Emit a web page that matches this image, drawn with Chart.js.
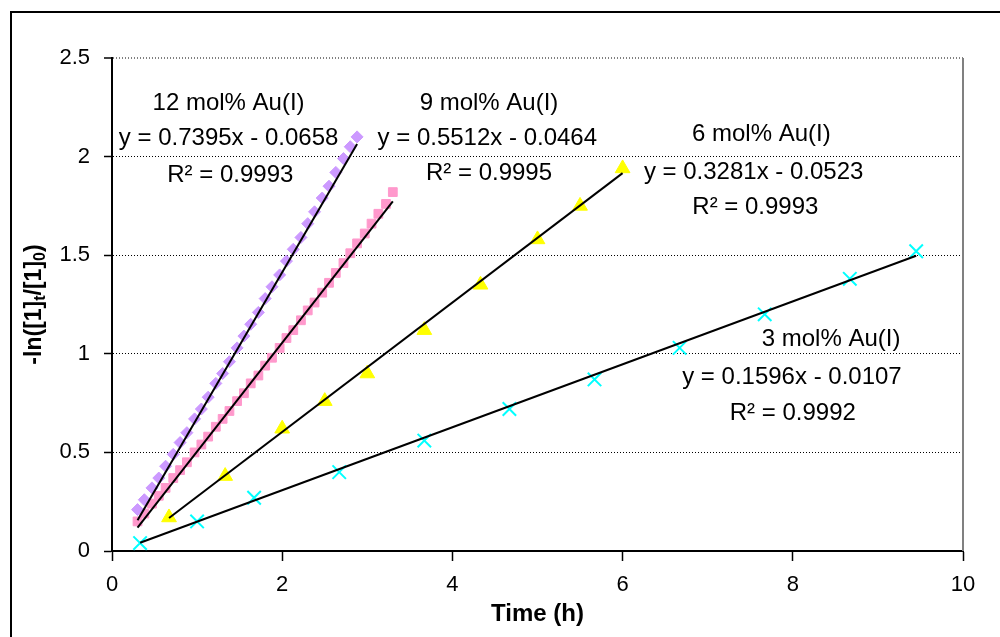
<!DOCTYPE html>
<html>
<head>
<meta charset="utf-8">
<script src="https://cdn.jsdelivr.net/npm/chart.js@4"></script>
<style>
  html, body { margin: 0; padding: 0; background: #fff; }
  #wrap { width: 1000px; height: 637px; }
</style>
</head>
<body>
<div id="wrap"><canvas id="kinChart" width="1000" height="637"></canvas></div>
<script>
// time (h) and -ln([1]t/[1]0) for each catalyst loading
const hours12 = [0.30, 0.38, 0.47, 0.55, 0.63, 0.72, 0.80, 0.88, 0.97, 1.05, 1.13, 1.22, 1.30, 1.38, 1.47, 1.55,
                 1.63, 1.72, 1.80, 1.88, 1.97, 2.05, 2.13, 2.22, 2.30, 2.38, 2.47, 2.55, 2.63, 2.72, 2.80, 2.88];
const lnRatio12 = [0.21, 0.26, 0.32, 0.37, 0.43, 0.49, 0.55, 0.60, 0.67, 0.72, 0.78, 0.85, 0.90, 0.96, 1.03, 1.09,
                   1.15, 1.21, 1.28, 1.34, 1.40, 1.47, 1.53, 1.59, 1.66, 1.72, 1.79, 1.85, 1.92, 1.99, 2.05, 2.10];

const hours9 = [0.30, 0.38, 0.47, 0.55, 0.63, 0.72, 0.80, 0.88, 0.97, 1.05, 1.13, 1.22, 1.30, 1.38, 1.47, 1.55,
                1.63, 1.72, 1.80, 1.88, 1.97, 2.05, 2.13, 2.22, 2.30, 2.38, 2.47, 2.55, 2.63, 2.72, 2.80, 2.88,
                2.97, 3.05, 3.13, 3.22, 3.30];
const lnRatio9 = [0.15, 0.19, 0.24, 0.28, 0.32, 0.37, 0.41, 0.45, 0.50, 0.54, 0.58, 0.63, 0.67, 0.71, 0.76, 0.80,
                  0.85, 0.89, 0.94, 0.98, 1.03, 1.08, 1.12, 1.17, 1.22, 1.26, 1.31, 1.36, 1.41, 1.46, 1.51, 1.56,
                  1.61, 1.66, 1.71, 1.76, 1.82];

const hours6 = [0.67, 1.33, 2.00, 2.50, 3.00, 3.67, 4.33, 5.00, 5.50, 6.00];
const lnRatio6 = [0.17, 0.38, 0.62, 0.76, 0.90, 1.12, 1.35, 1.58, 1.75, 1.94];

const hours3 = [0.33, 1.00, 1.67, 2.67, 3.67, 4.67, 5.67, 6.67, 7.67, 8.67, 9.45];
const lnRatio3 = [0.04, 0.15, 0.27, 0.40, 0.56, 0.72, 0.87, 1.03, 1.20, 1.38, 1.52];

// linear fits as printed on the chart (12, 9, 6, 3 mol%)
const loadings = ['12 mol% Au(I)', '9 mol% Au(I)', '6 mol% Au(I)', '3 mol% Au(I)'];
const fitSlope = [0.7395, 0.5512, 0.3281, 0.1596];
const fitIntercept = [-0.0658, -0.0464, -0.0523, -0.0107];
const fitR2 = ['0.9993', '0.9995', '0.9993', '0.9992'];

const xTicks = [0, 2, 4, 6, 8, 10];
const yTicks = [0, 0.5, 1, 1.5, 2, 2.5];

const FONT = "'Liberation Sans', Arial, sans-serif";
Chart.defaults.font.family = FONT;
Chart.defaults.color = '#000';

const toPts = (xs, ys) => xs.map((x, i) => ({ x: x, y: ys[i] }));

// trend line drawn between first and last time of a series
function fitLine(k, xs) {
  const x0 = xs[0], x1 = xs[xs.length - 1];
  return [
    { x: x0, y: fitSlope[k] * x0 + fitIntercept[k] },
    { x: x1, y: fitSlope[k] * x1 + fitIntercept[k] }
  ];
}

function eqText(k) {
  const b = fitIntercept[k];
  return 'y = ' + fitSlope[k].toFixed(4) + 'x ' + (b < 0 ? '- ' : '+ ') + Math.abs(b).toFixed(4);
}

// label blocks, anchored in data units (centre of each text line)
const labelLines = [
  { text: loadings[0], x: 1.37, y: 2.27 },
  { text: eqText(0), x: 1.37, y: 2.09 },
  { text: 'R\u00b2 = ' + fitR2[0], x: 1.39, y: 1.905 },
  { text: loadings[1], x: 4.43, y: 2.27 },
  { text: eqText(1), x: 4.41, y: 2.09 },
  { text: 'R\u00b2 = ' + fitR2[1], x: 4.43, y: 1.915 },
  { text: loadings[2], x: 7.63, y: 2.115 },
  { text: eqText(2), x: 7.54, y: 1.92 },
  { text: 'R\u00b2 = ' + fitR2[2], x: 7.56, y: 1.74 },
  { text: loadings[3], x: 8.45, y: 1.075 },
  { text: eqText(3), x: 7.99, y: 0.88 },
  { text: 'R\u00b2 = ' + fitR2[3], x: 8.0, y: 0.70 }
];

const frame = {
  id: 'frame',
  beforeDraw(chart) {
    const c = chart.ctx;
    c.save();
    c.fillStyle = '#fff';
    c.fillRect(0, 0, chart.width, chart.height);
    c.strokeStyle = '#000';
    c.lineWidth = 2;
    c.strokeRect(11, 12, chart.width + 20, chart.height + 20);
    c.restore();
  },
  beforeDatasetsDraw(chart) {
    const a = chart.chartArea, c = chart.ctx;
    c.save();
    c.strokeStyle = '#808080';
    c.lineWidth = 2;
    c.beginPath();
    c.moveTo(a.right, a.top);
    c.lineTo(a.right, a.bottom);
    c.stroke();
    c.restore();
  },
  afterDatasetsDraw(chart) {
    const c = chart.ctx, xs = chart.scales.x, ys = chart.scales.y;
    c.save();
    c.fillStyle = '#000';
    c.font = '24px ' + FONT;
    c.textAlign = 'center';
    c.textBaseline = 'middle';
    labelLines.forEach(l => {
      c.fillText(l.text, xs.getPixelForValue(l.x), ys.getPixelForValue(l.y));
    });

    // y axis title with subscripts
    const parts = [['-ln([1]', 0], ['t', 1], ['/[1]', 0], ['0', 1], [')', 0]];
    const big = 'bold 23px ' + FONT, small = 'bold 16px ' + FONT;
    let total = 0;
    parts.forEach(p => { c.font = p[1] ? small : big; total += c.measureText(p[0]).width; });
    c.translate(33, (chart.chartArea.top + chart.chartArea.bottom) / 2);
    c.rotate(-Math.PI / 2);
    c.textAlign = 'left';
    c.textBaseline = 'alphabetic';
    let px = -total / 2;
    parts.forEach(p => {
      c.font = p[1] ? small : big;
      c.fillText(p[0], px, p[1] ? 12 : 8);
      px += c.measureText(p[0]).width;
    });
    c.restore();
  }
};

new Chart(document.getElementById('kinChart'), {
  type: 'scatter',
  data: {
    datasets: [
      { type: 'line', data: fitLine(0, hours12), borderColor: '#000', borderWidth: 2, pointRadius: 0, order: 0 },
      { type: 'line', data: fitLine(1, hours9), borderColor: '#000', borderWidth: 2, pointRadius: 0, order: 0 },
      { type: 'line', data: fitLine(2, hours6), borderColor: '#000', borderWidth: 2, pointRadius: 0, order: 0 },
      { type: 'line', data: fitLine(3, hours3), borderColor: '#000', borderWidth: 2, pointRadius: 0, order: 0 },
      {
        label: loadings[0], data: toPts(hours12, lnRatio12), order: 1,
        pointStyle: 'rectRot', pointRadius: 6, backgroundColor: '#CC99FF', borderColor: '#CC99FF', borderWidth: 1
      },
      {
        label: loadings[1], data: toPts(hours9, lnRatio9), order: 1,
        pointStyle: 'rect', pointRadius: 6.2, backgroundColor: '#FF99CC', borderColor: '#FF99CC', borderWidth: 1
      },
      {
        label: loadings[2], data: toPts(hours6, lnRatio6), order: 1,
        pointStyle: 'triangle', pointRadius: 8.5, backgroundColor: '#FFFF00', borderColor: '#FFFF00', borderWidth: 1
      },
      {
        label: loadings[3], data: toPts(hours3, lnRatio3), order: 1,
        pointStyle: 'crossRot', pointRadius: 9.5, backgroundColor: '#00FFFF', borderColor: '#00FFFF', borderWidth: 2
      }
    ]
  },
  options: {
    responsive: false,
    animation: false,
    layout: { padding: { left: 0, right: 37, top: 58, bottom: 0 } },
    plugins: { legend: { display: false }, tooltip: { enabled: false } },
    scales: {
      x: {
        type: 'linear', min: 0, max: 10,
        afterBuildTicks: s => { s.ticks = xTicks.map(v => ({ value: v })); },
        afterFit: s => { s.height = 86; },
        ticks: { font: { size: 22 }, padding: 11, maxRotation: 0, callback: v => String(v) },
        grid: { drawOnChartArea: false, tickLength: 10, tickColor: '#000', tickWidth: 1.5 },
        border: { color: '#000', width: 2 },
        title: { display: true, text: 'Time (h)', font: { size: 24, weight: 'bold' }, padding: { top: 0, bottom: 8 } }
      },
      y: {
        type: 'linear', min: 0, max: 2.5,
        afterBuildTicks: s => { s.ticks = yTicks.map(v => ({ value: v })); },
        afterFit: s => { s.width = 112; },
        ticks: { font: { size: 22 }, padding: 14, callback: v => String(v) },
        grid: {
          color: c => (c.tick && c.tick.value === 2.5) ? '#808080' : '#000',
          lineWidth: c => (c.tick && c.tick.value === 2.5) ? 2 : 1,
          tickColor: '#000', tickLength: 8, tickWidth: 1.5, tickBorderDash: []
        },
        border: { color: '#000', width: 2, dash: [1, 2] }
      }
    }
  },
  plugins: [frame]
});
</script>
</body>
</html>
